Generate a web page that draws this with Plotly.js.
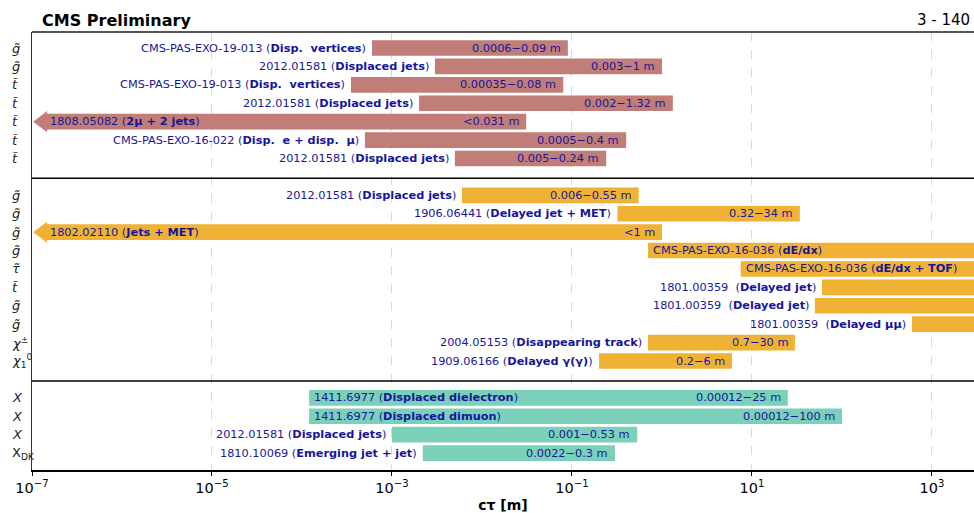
<!DOCTYPE html>
<html><head><meta charset="utf-8">
<script src="https://cdn.plot.ly/plotly-3.0.1.min.js"></script>
<style>html,body{margin:0;padding:0;background:#fff}#chart{width:974px;height:513px}</style>
</head><body><div id="chart"></div>
<script>
// ---- data ----
const particles = ["<i>g̃</i>","<i>g̃</i>","<i>t̃</i>","<i>t̃</i>","<i>t̃</i>","<i>t̃</i>","<i>t̃</i>",
  "<i>g̃</i>","<i>g̃</i>","<i>g̃</i>","<i>g̃</i>","<i>τ̃</i>","<i>t̃</i>","<i>g̃</i>","<i>g̃</i>","<i>χ</i><sup>±</sup>","<i>χ</i><sub>1</sub><sup>0</sup>",
  "<i>X</i>","<i>X</i>","<i>X</i>","X<sub>DK</sub>"];
const refs = ["CMS-PAS-EXO-19-013","2012.01581","CMS-PAS-EXO-19-013","2012.01581","1808.05082","CMS-PAS-EXO-16-022","2012.01581",
  "2012.01581","1906.06441","1802.02110","CMS-PAS-EXO-16-036","CMS-PAS-EXO-16-036","1801.00359 ","1801.00359 ","1801.00359 ","2004.05153","1909.06166",
  "1411.6977","1411.6977","2012.01581","1810.10069"];
const analyses = ["Disp.  vertices","Displaced jets","Disp.  vertices","Displaced jets","2μ + 2 jets","Disp.  e + disp.  μ","Displaced jets",
  "Displaced jets","Delayed jet + MET","Jets + MET","dE/dx","dE/dx + TOF","Delayed jet","Delayed jet","Delayed μμ","Disappearing track","Delayed γ(γ)",
  "Displaced dielectron","Displaced dimuon","Displaced jets","Emerging jet + jet"];
const lower = [0.0006,0.003,0.00035,0.002,null,0.0005,0.005,
  0.006,0.32,null,0.7,7.5,60,50,600,0.7,0.2,
  0.00012,0.00012,0.001,0.0022];
const upper = [0.09,1,0.08,1.32,0.031,0.4,0.24,
  0.55,34,1,null,null,null,null,null,30,6,
  25,100,0.53,0.3];
const rangeText = ["0.0006−0.09 m","0.003−1 m","0.00035−0.08 m","0.002−1.32 m","<0.031 m","0.0005−0.4 m","0.005−0.24 m",
  "0.006−0.55 m","0.32−34 m","<1 m","","","","","","0.7−30 m","0.2−6 m",
  "0.00012−25 m","0.00012−100 m","0.001−0.53 m","0.0022−0.3 m"];
const section = [0,0,0,0,0,0,0, 1,1,1,1,1,1,1,1,1,1, 2,2,2,2];
const labelInside = [false,false,false,false,true,false,false,
  false,false,true,true,true,false,false,false,false,false,
  true,true,false,false];
const xTickVals = [1e-7,1e-5,1e-3,1e-1,1e1,1e3];
const xTickText = ["10<sup>−7</sup>","10<sup>−5</sup>","10<sup>−3</sup>","10<sup>−1</sup>","10<sup>1</sup>","10<sup>3</sup>"];

// ---- style ----
const colors = ["rgb(193,125,119)","rgb(239,178,52)","rgb(122,208,184)"];
const textColor = "#16169a";
const FONT = "DejaVu Sans, sans-serif";
const xMinLog = -7, xMaxLog = 3.467;
const M = {l:32, r:0, t:32, b:43};
const plotW = 974 - M.l - M.r;
const pxPerDec = plotW / (xMaxLog - xMinLog);
const arrowCenter = Math.pow(10, xMinLog + 10.5/pxPerDec);
const arrowBarStart = Math.pow(10, xMinLog + 12/pxPerDec);
const farEnd = Math.pow(10, xMaxLog + 1);

const yPos = section.map((s,i)=> i + s);
const lastY = yPos[yPos.length-1];

const traces = [];
const annotations = [];
for (let g=0; g<3; g++) {
  const idx = section.map((s,i)=>s===g?i:-1).filter(i=>i>=0);
  const starts = idx.map(i=> lower[i]===null ? arrowBarStart : lower[i]);
  const ends = idx.map(i=> upper[i]===null ? farEnd : upper[i]);
  traces.push({type:'bar', orientation:'h', y: idx.map(i=>yPos[i]),
    base: starts, x: ends.map((e,k)=> e - starts[k]), width: 0.85,
    marker:{color: colors[g], line:{width:0}}, hoverinfo:'skip', showlegend:false});
  const arrIdx = idx.filter(i=>lower[i]===null);
  if (arrIdx.length) traces.push({type:'scatter', mode:'markers', x: arrIdx.map(()=>arrowCenter),
    y: arrIdx.map(i=>yPos[i]), cliponaxis:false,
    marker:{symbol:'triangle-left', size:18.5, color: colors[g], line:{width:0}}, hoverinfo:'skip', showlegend:false});
}

for (let i=0;i<refs.length;i++) {
  const label = refs[i] + " (<b>" + analyses[i] + "</b>)";
  const start = lower[i]===null ? arrowBarStart : lower[i];
  annotations.push({x: Math.log10(start), y: yPos[i], xref:'x', yref:'y', text: label, showarrow:false,
    xanchor: labelInside[i] ? 'left' : 'right', xshift: labelInside[i] ? (lower[i]===null?4:3) : -4, yanchor:'middle',
    font:{family:FONT, size:11.3, color:textColor}});
  if (rangeText[i]) annotations.push({x: Math.log10(upper[i]), y: yPos[i], xref:'x', yref:'y', text: rangeText[i], showarrow:false,
    xanchor:'right', xshift:-5, yanchor:'middle', font:{family:FONT, size:11.3, color:textColor}});
  annotations.push({x:0, xref:'paper', xshift:-22, xanchor:'left', y:yPos[i], yref:'y', yanchor:'middle',
    text: particles[i], showarrow:false, font:{family:FONT, size:13, color:'#222'}});
}
annotations.push({x:0, xref:'paper', xshift:8, xanchor:'left', y:1, yref:'paper', yshift:12, yanchor:'middle',
  text:'<b>CMS Preliminary</b>', showarrow:false, font:{family:FONT, size:16, color:'#000'}});
annotations.push({x:1, xref:'paper', xshift:-2, xanchor:'right', y:1, yref:'paper', yshift:12, yanchor:'middle',
  text:'3 - 140', showarrow:false, font:{family:FONT, size:15, color:'#000'}});

const shapes = [];
for (let s=1; s<3; s++) {
  const prevLast = yPos[section.lastIndexOf(s-1)], nextFirst = yPos[section.indexOf(s)];
  const yy = (prevLast + nextFirst)/2 + 0.08;
  shapes.push({type:'line', xref:'paper', x0:0, x1:1, yref:'y', y0:yy, y1:yy, line:{color:'#000', width:1.5}});
}
shapes.push({type:'line', xref:'paper', x0:0, x1:1, yref:'paper', y0:1, y1:1, line:{color:'#555', width:2}});

const layout = {
  width:974, height:513, margin:M, paper_bgcolor:'#fff', plot_bgcolor:'#fff',
  barmode:'overlay', showlegend:false,
  font:{family:FONT, color:'#000'},
  xaxis:{type:'log', range:[xMinLog, xMaxLog], tickvals:xTickVals, ticktext:xTickText,
    ticks:'outside', ticklen:4, tickcolor:'#000', tickfont:{family:FONT, size:14.5, color:'#000'},
    showgrid:true, gridcolor:'#d9d9d9', griddash:'dash', gridwidth:1,
    showline:true, linecolor:'#000', linewidth:1.5, zeroline:false,
    title:{text:'<b>cτ [m]</b>', font:{family:FONT, size:14, color:'#000'}, standoff:5}},
  yaxis:{range:[lastY + 0.92, -0.87], showticklabels:false, ticks:'', showgrid:false, zeroline:false,
    showline:true, linecolor:'#333', linewidth:1.5},
  annotations, shapes
};
Plotly.newPlot('chart', traces, layout, {displayModeBar:false, staticPlot:true});
</script></body></html>
